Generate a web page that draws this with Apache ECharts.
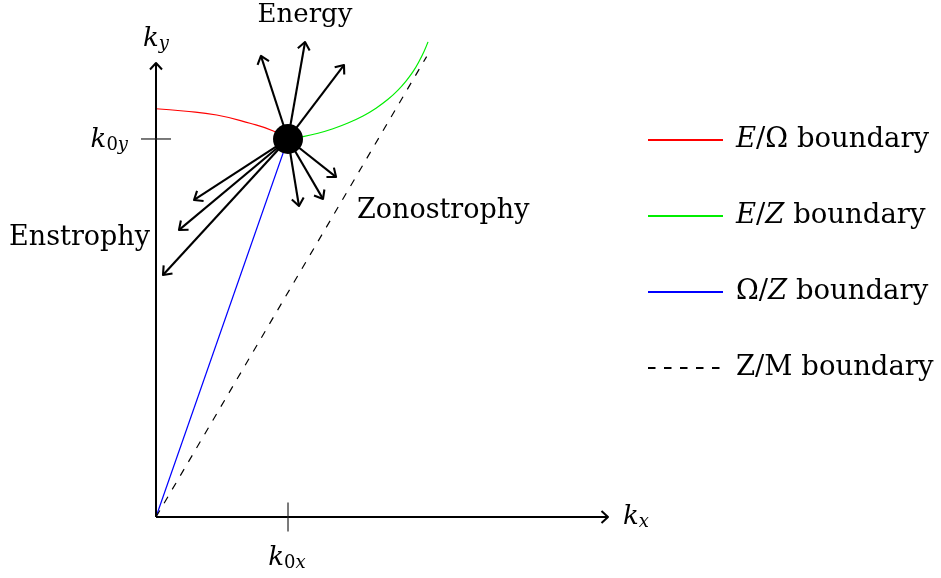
<!DOCTYPE html>
<html><head><meta charset="utf-8">
<script src="https://cdn.jsdelivr.net/npm/echarts@6/dist/echarts.min.js"></script>
<style>html,body{margin:0;padding:0;background:#fff}#c{width:941px;height:578px}</style>
</head><body><div id="c"></div>
<script>
// ---- data (units of k0x / k0y) ----
const k0x = 1, k0y = 1;
const axisEndX = 3.424, axisEndY = 1.201;
const eOmegaX = [0, 0.207, 0.460, 0.712, 0.889, 1];
const eOmegaY = [1.080, 1.074, 1.0635, 1.0415, 1.0212, 1];
const eZX = [1, 1.1136, 1.2273, 1.3409, 1.4545, 1.5682, 1.6667, 1.7576, 1.8333, 1.8939, 1.9470, 1.9924, 2.0303, 2.0606];
const eZY = [1, 1.0061, 1.0151, 1.0270, 1.0421, 1.0608, 1.0815, 1.1050, 1.1294, 1.1532, 1.1780, 1.2050, 1.2315, 1.2569];
const omegaZX = [0, 1];
const omegaZY = [0, 1];
const zMX = [0, 2.05];
const zMY = [0, 1.218];
const energyTips = [[0.795, 1.2196], [1.129, 1.2566], [1.424, 1.1958]];
const zonalTips = [[1.364, 0.8995], [1.265, 0.8413], [1.083, 0.8228]];
const enstrophyTips = [[0.288, 0.8386], [0.174, 0.7593], [0.053, 0.6402]];
const seriesNames = ['E/Ω boundary', 'E/Z boundary', 'Ω/Z boundary', 'Z/M boundary'];
const legendRich = {
  'E/Ω boundary': '{i|E}/Ω boundary',
  'E/Z boundary': '{i|E}/{i|Z} boundary',
  'Ω/Z boundary': 'Ω/{i|Z} boundary',
  'Z/M boundary': 'Z/M boundary'
};
const annotations = ['Energy', 'Enstrophy', 'Zonostrophy'];

// ---- helpers ----
const FONT = 'DejaVu Serif';
const zip = (xs, ys) => xs.map((x, i) => [x, ys[i]]);
const mathRich = {
  k: { fontFamily: FONT, fontStyle: 'italic', fontSize: 26, lineHeight: 28, color: '#000' },
  n: { fontFamily: FONT, fontSize: 18, lineHeight: 12, verticalAlign: 'bottom', color: '#000' },
  s: { fontFamily: FONT, fontStyle: 'italic', fontSize: 18, lineHeight: 12, verticalAlign: 'bottom', color: '#000' }
};

const arrows = [];
[energyTips, zonalTips, enstrophyTips].forEach(g => g.forEach(t => arrows.push([k0x, k0y, t[0], t[1], 0])));
arrows.push([0, 0, axisEndX, 0, 1]);
arrows.push([0, 0, 0, axisEndY, 1]);

function arrowItem(params, api) {
  const a = api.coord([api.value(0), api.value(1)]);
  const b = api.coord([api.value(2), api.value(3)]);
  const isAxis = api.value(4) === 1;
  const dx = b[0] - a[0], dy = b[1] - a[1];
  const len = Math.hypot(dx, dy);
  const ux = dx / len, uy = dy / len;
  const L = isAxis ? 6.5 : 7.5, W = 6;
  const lw = isAxis ? 2 : 2.1;
  const h1 = [b[0] - ux * L - uy * W, b[1] - uy * L + ux * W];
  const h2 = [b[0] - ux * L + uy * W, b[1] - uy * L - ux * W];
  return { type: 'group', children: [
    { type: 'line', shape: { x1: a[0], y1: a[1], x2: b[0] - ux, y2: b[1] - uy }, style: { stroke: '#000', lineWidth: lw } },
    { type: 'polyline', shape: { points: [h1, b, h2] }, style: { stroke: '#000', lineWidth: lw, fill: null, lineJoin: 'round' } }
  ]};
}

function tickItem(params, api) {
  const p = api.coord([api.value(0), api.value(1)]);
  const vertical = api.value(2) === 0;
  if (vertical) {
    return { type: 'group', children: [
      { type: 'line', shape: { x1: p[0], y1: p[1] - 14.5, x2: p[0], y2: p[1] + 14.5 }, style: { stroke: '#222', lineWidth: 1.2 } },
      { type: 'text', x: p[0] - 1, y: p[1] + 41, style: { text: '{k|k}{n|0}{s|x}', rich: mathRich, align: 'center', verticalAlign: 'middle' } }
    ]};
  }
  return { type: 'group', children: [
    { type: 'line', shape: { x1: p[0] - 15, y1: p[1], x2: p[0] + 15, y2: p[1] }, style: { stroke: '#222', lineWidth: 1.2 } },
    { type: 'text', x: p[0] - 28, y: p[1] + 1, style: { text: '{k|k}{n|0}{s|y}', rich: mathRich, align: 'right', verticalAlign: 'middle' } }
  ]};
}

const chart = echarts.init(document.getElementById('c'), null, { renderer: 'canvas' });
chart.setOption({
  animation: false,
  backgroundColor: '#fff',
  grid: { left: 156, top: 63, width: 452, height: 454, containLabel: false, outerBoundsMode: 'none' },
  xAxis: {
    type: 'value', min: 0, max: axisEndX,
    axisLine: { show: false }, axisTick: { show: false }, axisLabel: { show: false }, splitLine: { show: false },
    name: '{k|k}{s|x}', nameLocation: 'end', nameGap: 15,
    nameTextStyle: { rich: mathRich, align: 'left', verticalAlign: 'middle' }
  },
  yAxis: {
    type: 'value', min: 0, max: axisEndY,
    axisLine: { show: false }, axisTick: { show: false }, axisLabel: { show: false }, splitLine: { show: false },
    name: '{k|k}{s|y}', nameLocation: 'end', nameGap: 10,
    nameTextStyle: { rich: mathRich, align: 'center' }
  },
  legend: {
    orient: 'vertical', left: 647, top: 125, padding: 0,
    itemWidth: 75, itemHeight: 30, itemGap: 46,
    selectedMode: false,
    data: seriesNames,
    formatter: n => legendRich[n],
    itemStyle: { opacity: 0 },
    textStyle: {
      fontFamily: FONT, fontSize: 27.5, color: '#000', lineHeight: 30, padding: [0, 0, 0, 8],
      rich: { i: { fontFamily: FONT, fontStyle: 'italic', fontSize: 27.5, color: '#000', lineHeight: 30 } }
    }
  },
  graphic: [
    { type: 'text', x: 305, y: 15, style: { text: annotations[0], font: '26px "DejaVu Serif"', fill: '#000', align: 'center', verticalAlign: 'middle' } },
    { type: 'text', x: 150, y: 238, style: { text: annotations[1], font: '27px "DejaVu Serif"', fill: '#000', align: 'right', verticalAlign: 'middle' } },
    { type: 'text', x: 357, y: 211, style: { text: annotations[2], font: '27px "DejaVu Serif"', fill: '#000', align: 'left', verticalAlign: 'middle' } }
  ],
  series: [
    { name: seriesNames[0], type: 'line', data: zip(eOmegaX, eOmegaY), smooth: true, symbol: 'none', clip: false,
      lineStyle: { color: '#ff0000', width: 1.2 }, itemStyle: { color: '#ff0000' }, z: 2 },
    { name: seriesNames[1], type: 'line', data: zip(eZX, eZY), smooth: 0.4, symbol: 'none', clip: false,
      lineStyle: { color: '#00ee00', width: 1.2 }, itemStyle: { color: '#00ee00' }, z: 2 },
    { name: seriesNames[2], type: 'line', data: zip(omegaZX, omegaZY), symbol: 'none', clip: false,
      lineStyle: { color: '#0000ff', width: 1.2 }, itemStyle: { color: '#0000ff' }, z: 2 },
    { name: seriesNames[3], type: 'line', data: zip(zMX, zMY), symbol: 'none', clip: false,
      lineStyle: { color: '#000', width: 1.2, type: [7.5, 8.5] }, itemStyle: { color: '#000' }, z: 2 },
    { type: 'custom', renderItem: arrowItem, data: arrows, clip: false, z: 3, silent: true },
    { type: 'custom', renderItem: tickItem, data: [[k0x, 0, 0], [0, k0y, 1]], clip: false, z: 3, silent: true },
    { type: 'scatter', data: [[k0x, k0y]], symbol: 'circle', symbolSize: 30, itemStyle: { color: '#000', opacity: 1 }, z: 5, silent: true }
  ]
});
</script></body></html>
